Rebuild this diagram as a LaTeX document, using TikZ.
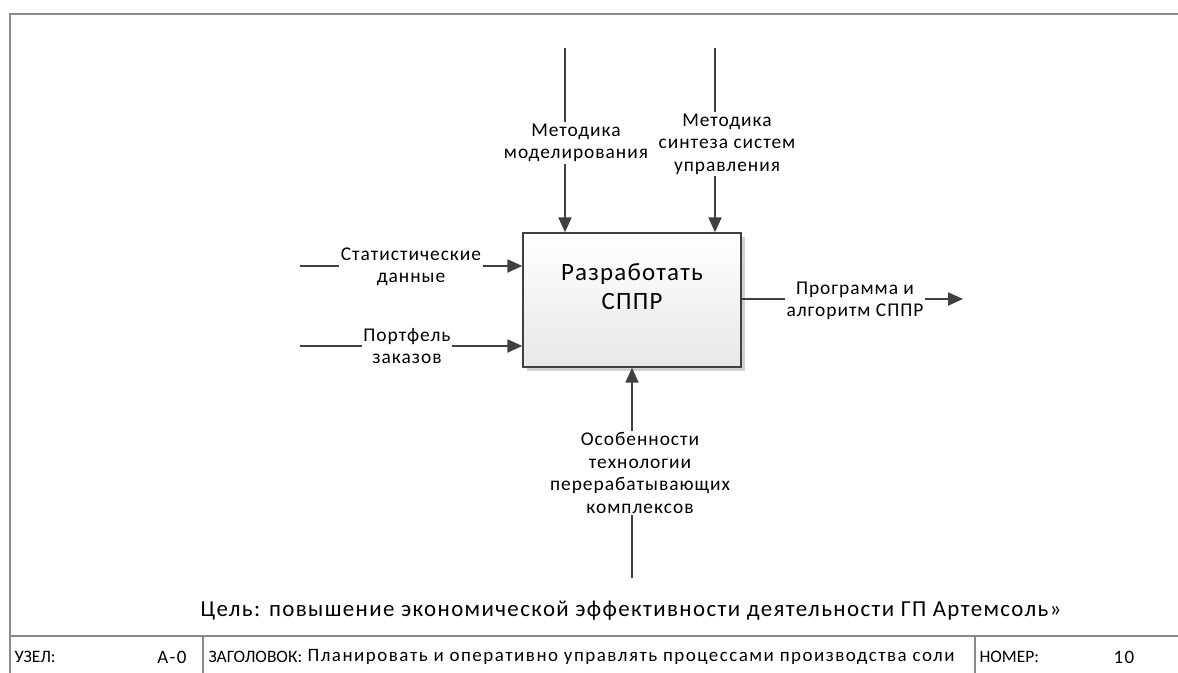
\documentclass[tikz,border=0pt]{standalone}
\usepackage{fontspec}
\setmainfont{Carlito}
\newfontfamily\lblfont[LetterSpace=5]{Carlito}
\newfontfamily\goalfont[LetterSpace=6]{Carlito}
\newfontfamily\footfont[LetterSpace=8]{Carlito}
\newfontfamily\capsfont{Carlito}
\usetikzlibrary{arrows.meta,shadows}
\definecolor{arcgray}{HTML}{404040}
\definecolor{boxfill}{HTML}{E8E8E8}
\definecolor{framegray}{HTML}{8A8A8A}
\begin{document}
\begin{tikzpicture}[x=1bp,y=-1bp,
  arc/.style={draw=arcgray,line width=2bp,-{Triangle[length=15bp,width=13bp]}},
  lbl/.style={fill=white,align=center,inner sep=1.5bp,font=\lblfont\fontsize{19.5}{22.5}\selectfont},
  func/.style={draw=arcgray,line width=1.3bp,top color=white,bottom color=boxfill,
    minimum width=218bp,minimum height=134bp,
    drop shadow={shadow xshift=4bp,shadow yshift=-4bp,fill=black!18,opacity=1}},
  foot/.style={anchor=west,font=\footfont\fontsize{19}{22}\selectfont},
  footcaps/.style={anchor=west,font=\capsfont\fontsize{17.5}{22}\selectfont}]
\useasboundingbox (0,0) rectangle (1178,673);
\fill[white] (0,0) rectangle (1178,673);

% frame
\draw[framegray,line width=1.5bp] (10,673) |- (1178,14);
\draw[framegray,line width=1.5bp] (10,636) -- (1178,636);
\draw[framegray,line width=1.5bp] (203,636) -- (203,673);
\draw[framegray,line width=1.5bp] (975,636) -- (975,673);

% function
\node[func] (fn) at (632,300) {};
\node[align=center,font=\lblfont\fontsize{25}{29}\selectfont] (fntext) at (632,287) {Разработать\\СППР};

% free ends
\coordinate (c1) at (565,48);
\coordinate (c2) at (715,48);
\coordinate (i1) at (300,266);
\coordinate (i2) at (300,346);
\coordinate (o1) at (963,299);
\coordinate (m1) at (632,578);

% connectors
\draw[arc] (c1) -- (c1 |- fn.north);
\draw[arc] (c2) -- (c2 |- fn.north);
\draw[arc] (i1) -- (i1 -| fn.west);
\draw[arc] (i2) -- (i2 -| fn.west);
\draw[arc] (o1 -| fn.east) -- (o1);
\draw[arc] (m1) -- (m1 |- fn.south);

% labels
\node[lbl] (c1lbl) at (576,143) {Методика\\моделирования};
\node[lbl] (c2lbl) at (727,144) {Методика\\синтеза систем\\управления};
\node[lbl] (i1lbl) at (411,267) {Статистические\\данные};
\node[lbl] (i2lbl) at (407,346) {Портфель\\заказов};
\node[lbl] (o1lbl) at (855,301) {Программа и\\алгоритм СППР};
\node[lbl] (m1lbl) at (640,473) {Особенности\\технологии\\перерабатывающих\\комплексов};

% goal and footer
\node[font=\goalfont\fontsize{23}{26}\selectfont] (goal) at (631,611) {Цель: повышение экономической эффективности деятельности ГП Артемсоль»};
\node[footcaps] (node) at (11,657) {УЗЕЛ:};
\node[foot,anchor=east] (nodeid) at (190,657) {А-0};
\node[footcaps] (title) at (205,657) {ЗАГОЛОВОК:};
\node[foot] (titletext) at (304,657) {Планировать и оперативно управлять процессами производства соли};
\node[footcaps] (num) at (976,657) {НОМЕР:};
\node[foot] (numval) at (1110,657) {10};
\end{tikzpicture}
\end{document}
